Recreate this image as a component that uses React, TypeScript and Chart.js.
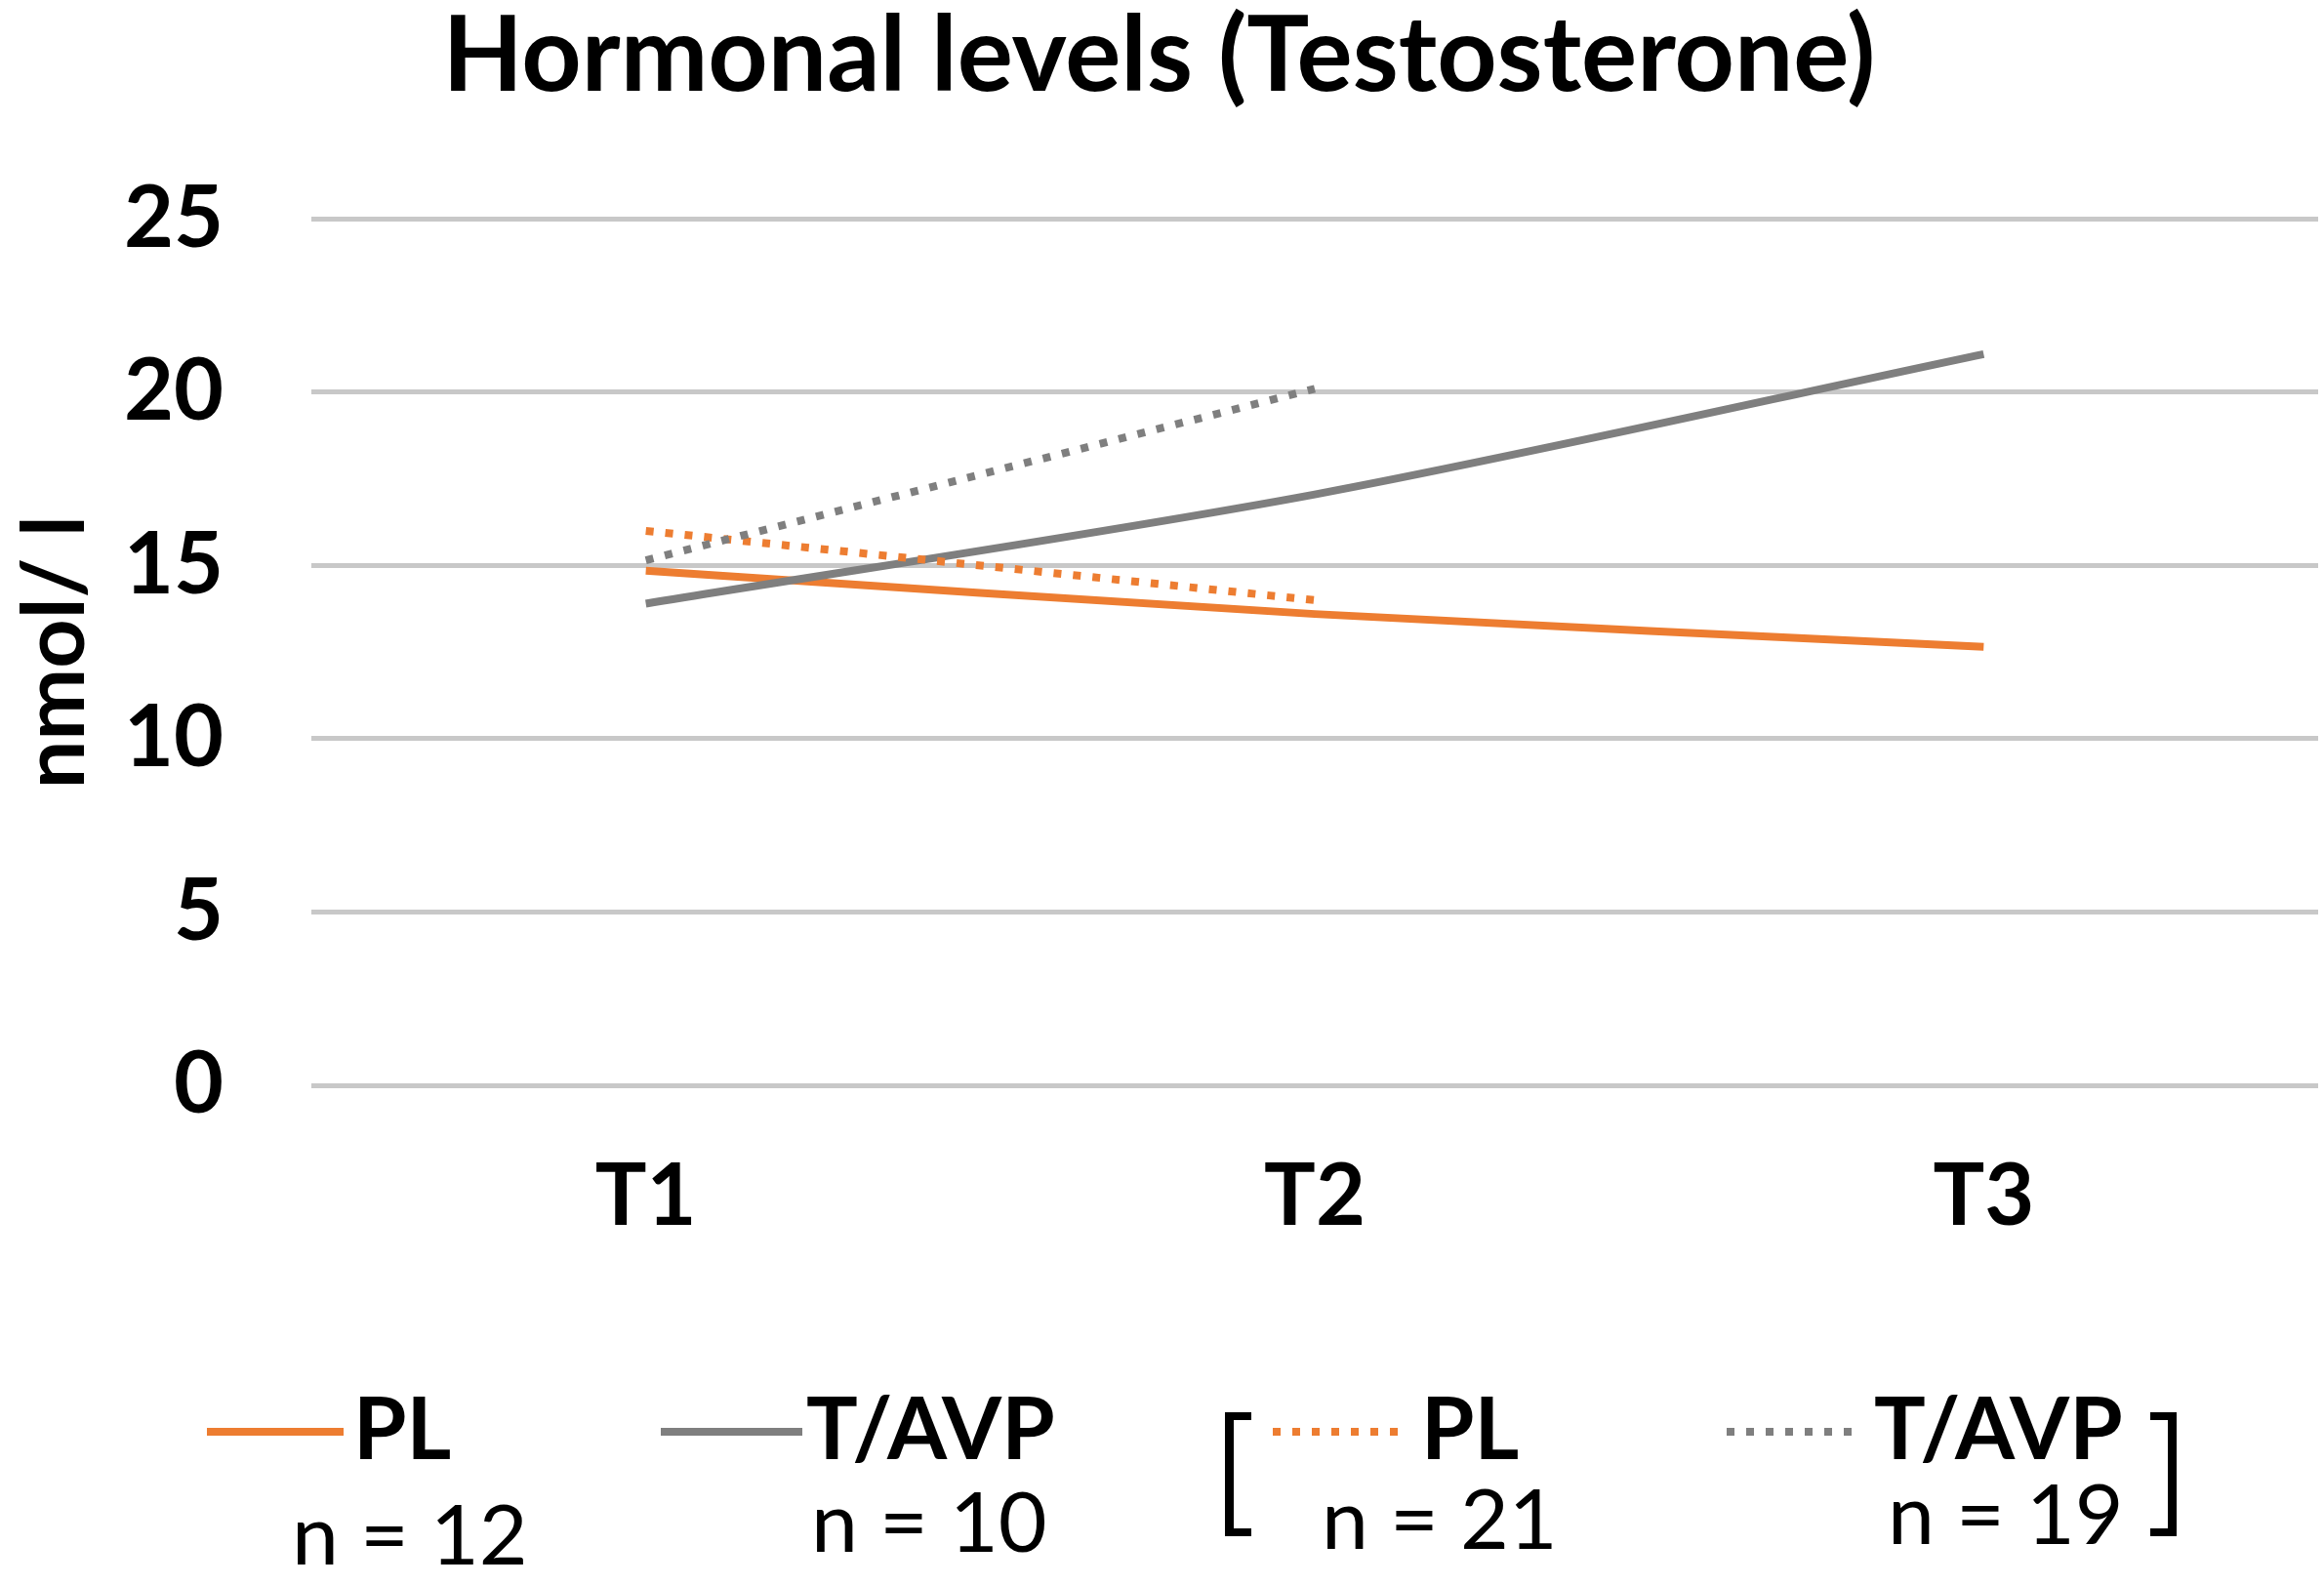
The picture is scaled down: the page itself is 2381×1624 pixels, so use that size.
import React, { useEffect, useRef } from "react";
import { Chart, registerables } from "chart.js";

Chart.register(...registerables);

// ---- data ----
const categories = ["T1", "T2", "T3"];
const plSolid = [14.85, 13.6, 12.65];
const tavpSolid = [13.9, 17.05, 21.1];
const plDotted = [16.0, 14.0, null];
const tavpDotted = [15.15, 20.1, null];
const yTickValues = [0, 5, 10, 15, 20, 25];
const seriesLabels = ["PL", "T/AVP", "PL", "T/AVP"];
const sampleSizes = ["n = 12", "n = 10", "n = 21", "n = 19"];
const chartTitle = "Hormonal levels (Testosterone)";
const yAxisTitle = "nmol/ l";

// ---- styles ----
const W = 2381;
const H = 1624;
const ORANGE = "#ED7D31";
const GRAY = "#7F7F7F";
const FONT = "Lato, Carlito, 'Open Sans', sans-serif";
const LABEL_SIZE = 88;
const COUNT_SIZE = 86;
const DOT_DASH = [8, 12];

const seriesStyles = [
  { color: ORANGE, dotted: false },
  { color: GRAY, dotted: false },
  { color: ORANGE, dotted: true },
  { color: GRAY, dotted: true },
];

const legendLayout = [
  { lineLeft: 212, lineWidth: 140, labelLeft: 362, countLeft: 299, countBaseline: 1603 },
  { lineLeft: 677, lineWidth: 145, labelLeft: 826, countLeft: 831, countBaseline: 1590 },
  { lineLeft: 1304, lineWidth: 133, labelLeft: 1456, countLeft: 1354, countBaseline: 1587 },
  { lineLeft: 1769, lineWidth: 133, labelLeft: 1920, countLeft: 1934, countBaseline: 1582 },
];
const LEGEND_LINE_Y = 1467;
const LEGEND_LABEL_BASELINE = 1495;

function topForBaseline(baseline: number, size: number) {
  return baseline - 0.887 * size;
}

export default function App() {
  const ref = useRef<HTMLCanvasElement>(null);

  useEffect(() => {
    document.body.style.margin = "0";
    document.body.style.overflow = "hidden";
    const seriesData = [plSolid, tavpSolid, plDotted, tavpDotted];
    const chart = new Chart(ref.current as HTMLCanvasElement, {
      type: "line",
      data: {
        labels: categories,
        datasets: seriesData.map((d, i) => ({
          label: seriesLabels[i],
          data: d,
          borderColor: seriesStyles[i].color,
          backgroundColor: seriesStyles[i].color,
          borderWidth: 8,
          borderDash: seriesStyles[i].dotted ? DOT_DASH : [],
          borderCapStyle: "butt" as const,
          pointRadius: 0,
          pointHoverRadius: 0,
          tension: seriesStyles[i].dotted ? 0 : 0.3,
          fill: false,
          spanGaps: false,
          order: 4 - i,
        })),
      },
      options: {
        animation: false,
        responsive: false,
        devicePixelRatio: 1,
        layout: { padding: { left: 0, right: 6, top: 0, bottom: 332 } },
        plugins: {
          legend: { display: false },
          tooltip: { enabled: false },
          title: {
            display: true,
            text: chartTitle,
            color: "#000",
            font: { family: FONT, size: 107, weight: "bold", lineHeight: 1.05 },
            padding: { top: 2, bottom: 110 },
          },
        },
        scales: {
          x: {
            type: "category",
            offset: true,
            grid: { display: false, drawTicks: false },
            border: { display: false },
            ticks: {
              color: "#000",
              font: { family: FONT, size: LABEL_SIZE, weight: "bold" },
              padding: 62,
              maxRotation: 0,
            },
            afterFit: (s: any) => {
              s.height = 180;
            },
          },
          y: {
            min: 0,
            max: 25,
            afterBuildTicks: (s: any) => {
              s.ticks = yTickValues.map((v) => ({ value: v }));
            },
            grid: { color: "#C8C8C8", lineWidth: 5, drawTicks: false },
            border: { display: false },
            ticks: {
              color: "#000",
              font: { family: FONT, size: LABEL_SIZE, weight: "bold" },
              padding: 90,
            },
            title: {
              display: true,
              text: yAxisTitle,
              color: "#000",
              font: { family: FONT, size: LABEL_SIZE, weight: "bold", lineHeight: 1.2 },
              padding: { top: 5, bottom: 0 },
            },
            afterFit: (s: any) => {
              s.width = 319;
            },
          },
        },
      },
    });
    return () => chart.destroy();
  }, []);

  const bracketBase: React.CSSProperties = {
    position: "absolute",
    top: 1447,
    height: 127,
    width: 27,
    boxSizing: "border-box",
    borderTop: "8px solid #000",
    borderBottom: "8px solid #000",
  };

  return (
    <div style={{ position: "relative", width: W, height: H, background: "#fff", overflow: "hidden", fontFamily: FONT }}>
      <canvas ref={ref} width={W} height={H} style={{ display: "block" }} />
      {legendLayout.map((l, i) => {
        const st = seriesStyles[i];
        const lineStyle: React.CSSProperties = {
          position: "absolute",
          left: l.lineLeft,
          top: LEGEND_LINE_Y - 4,
          width: l.lineWidth,
          height: 8,
          background: st.dotted
            ? `repeating-linear-gradient(to right, ${st.color} 0px, ${st.color} ${DOT_DASH[0]}px, transparent ${DOT_DASH[0]}px, transparent ${DOT_DASH[0] + DOT_DASH[1]}px)`
            : st.color,
        };
        return (
          <React.Fragment key={i}>
            <div style={lineStyle} />
            <div
              style={{
                position: "absolute",
                left: l.labelLeft,
                top: topForBaseline(LEGEND_LABEL_BASELINE, LABEL_SIZE),
                fontSize: LABEL_SIZE,
                lineHeight: `${LABEL_SIZE}px`,
                fontWeight: 700,
                color: "#000",
                whiteSpace: "nowrap",
              }}
            >
              {seriesLabels[i]}
            </div>
            <div
              style={{
                position: "absolute",
                left: l.countLeft,
                top: topForBaseline(l.countBaseline, COUNT_SIZE),
                fontSize: COUNT_SIZE,
                lineHeight: `${COUNT_SIZE}px`,
                fontWeight: 400,
                color: "#000",
                whiteSpace: "nowrap",
              }}
            >
              {sampleSizes[i]}
            </div>
          </React.Fragment>
        );
      })}
      <div style={{ ...bracketBase, left: 1255, borderLeft: "9px solid #000" }} />
      <div style={{ ...bracketBase, left: 2203, borderRight: "9px solid #000" }} />
    </div>
  );
}
